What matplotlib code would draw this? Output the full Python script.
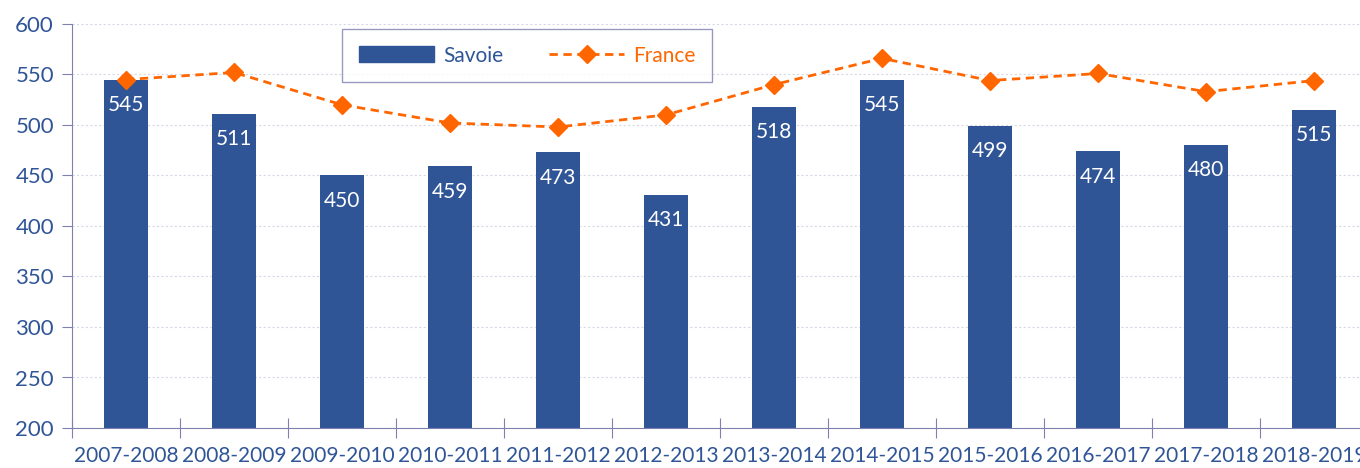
import matplotlib
matplotlib.use("Agg")
import matplotlib.pyplot as plt
import numpy as np
from matplotlib.patches import Patch
from matplotlib.lines import Line2D

years = ["2007-2008", "2008-2009", "2009-2010", "2010-2011", "2011-2012", "2012-2013",
         "2013-2014", "2014-2015", "2015-2016", "2016-2017", "2017-2018", "2018-2019"]
savoie = [545, 511, 450, 459, 473, 431, 518, 545, 499, 474, 480, 515]
france = [545, 552, 520, 502, 498, 510, 540, 566, 544, 551, 533, 544]

blue = "#2F5597"
orange = "#FF6600"
axcol = "#8080B0"

plt.rcParams['font.family'] = ['Lato', 'DejaVu Sans']

fig = plt.figure(figsize=(13.6, 4.68), dpi=100)
ax = fig.add_axes([72/1360, 40/468, 1296/1360, 404/468])

x = np.arange(len(years))
ax.bar(x, savoie, width=0.4, color=blue, zorder=2)
ax.plot(x, france, color=orange, linestyle=(0, (3, 2)), linewidth=2,
        marker="D", markersize=9, zorder=3)

for xi, v in zip(x, savoie):
    ax.annotate(str(v), (xi, v), xytext=(0, -11), textcoords="offset points",
                ha="center", va="top", color="white", fontsize=15, zorder=4)

ax.set_xlim(-0.5, 11.5)
ax.set_ylim(200, 600)
ax.set_yticks(range(200, 601, 50))
ax.yaxis.grid(True, color="#D8D8E8", linestyle=(0, (2, 2)), linewidth=0.8, zorder=0)
ax.set_axisbelow(True)

ax.set_xticks(np.arange(-0.5, 12, 1))
ax.set_xticklabels([])
ax.set_xticks(x, minor=True)
ax.set_xticklabels(years, minor=True)
ax.tick_params(axis="x", which="major", direction="inout", length=14, color=axcol)
ax.tick_params(axis="x", which="minor", length=0, pad=13, labelsize=15, labelcolor=blue)
ax.tick_params(axis="y", direction="out", length=7, color=axcol, labelsize=16,
               labelcolor=blue, pad=6)

for s in ["top", "right"]:
    ax.spines[s].set_visible(False)
for s in ["left", "bottom"]:
    ax.spines[s].set_color(axcol)

handles = [Patch(facecolor=blue, edgecolor=blue),
           Line2D([], [], color=orange, linestyle=(0, (3, 2)), linewidth=2,
                  marker="D", markersize=9)]
leg = ax.legend(handles, ["Savoie", "France"], loc="upper left", ncol=2,
                bbox_to_anchor=(270/1296, 1 - 5/404), frameon=True, fancybox=False,
                fontsize=15, handlelength=3.6, handleheight=0.8, columnspacing=2.2,
                borderpad=0.8, handletextpad=0.45, borderaxespad=0)
leg.get_frame().set_edgecolor(axcol)
leg.get_frame().set_linewidth(1)
texts = leg.get_texts()
texts[0].set_color(blue)
texts[1].set_color(orange)

fig.savefig("out.png", dpi=100)
